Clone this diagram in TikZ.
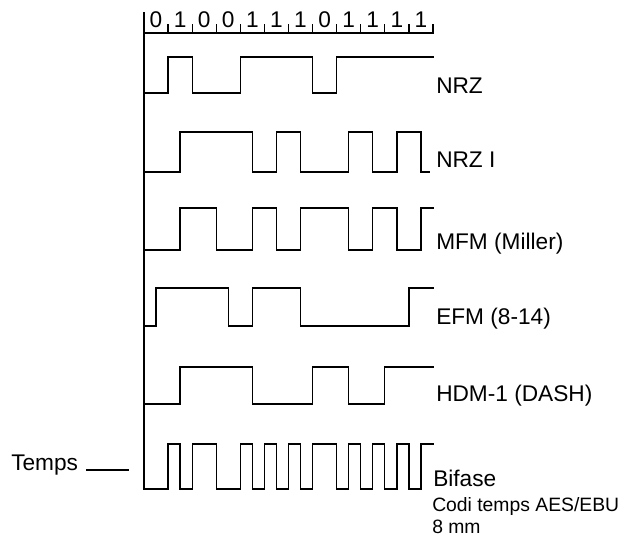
\documentclass[tikz,border=0pt]{standalone}
\usepackage{fontspec}
\setmainfont{Liberation Sans}
\begin{document}
\begin{tikzpicture}[
  x=0.75pt, y=-0.75pt,
  wave/.style={line width=0.95pt, line join=miter, line cap=rect},
  lbl/.style={font=\fontsize{17}{20}\selectfont, inner sep=0pt, anchor=base west},
  note/.style={font=\fontsize{14.5}{17}\selectfont, inner sep=0pt, anchor=base west},
  bit/.style={font=\fontsize{17}{20}\selectfont, inner sep=0pt, anchor=base}
]
  \useasboundingbox (0,0) rectangle (644,538);
  \begin{scope}[shift={(144,0)}, x=18.0625pt]
    % eix i regle de bits
    \draw[wave] (0,13) -- (0,489);
    \draw[wave] (0,33) -- (12,33);
    \foreach \k in {1,...,12}
      \draw[wave] (\k,25) -- (\k,33);
    \foreach \b [count=\k from 0] in {0,1,0,0,1,1,1,0,1,1,1,1}
      \node[bit] (b\k) at (\k+0.5,28) {\b};
    % senyals
    \draw[wave] (0,93) \foreach \xx/\yy in {1/57,2/93,4/57,7/93,8/57} { -| (\xx,\yy) } -- (12,57);
    \draw[wave] (0,172) \foreach \xx/\yy in {1.5/132,4.5/172,5.5/132,6.5/172,8.5/132,9.5/172,10.5/132,11.5/172} { -| (\xx,\yy) } -- (11.85,172);
    \draw[wave] (0,250) \foreach \xx/\yy in {1.5/208,3/250,4.5/208,5.5/250,6.5/208,8.5/250,9.5/208,10.5/250,11.5/208} { -| (\xx,\yy) } -- (12,208);
    \draw[wave] (0,326) \foreach \xx/\yy in {0.5/288,3.5/326,4.5/288,6.5/326,11/288} { -| (\xx,\yy) } -- (12,288);
    \draw[wave] (0,404) \foreach \xx/\yy in {1.5/367,4.5/404,7/367,8.5/404,10/367} { -| (\xx,\yy) } -- (12,367);
    \draw[wave] (0,489) \foreach \xx/\yy in {1/444,1.5/489,2/444,3/489,4/444,4.5/489,5/444,5.5/489,6/444,6.5/489,7/444,8/489,8.5/444,9/489,9.5/444,10/489,10.5/444,11/489,11.5/444} { -| (\xx,\yy) } -- (12,444);
  \end{scope}
  % etiquetes
  \node[lbl] (nrz) at (436,94) {NRZ};
  \node[lbl] (nrzi) at (436,168) {NRZ I};
  \node[lbl] (mfm) at (436,250) {MFM (Miller)};
  \node[lbl] (efm) at (436,325) {EFM (8-14)};
  \node[lbl] (hdm) at (436,402) {HDM-1 (DASH)};
  \node[lbl] (bifase) at (433,487) {Bifase};
  \node[note] (codi) at (432,512) {Codi temps AES/EBU};
  \node[note] (mida) at (432,534) {8 mm};
  \node[lbl] (temps) at (11,471) {Temps};
  \coordinate (tempsend) at (128,470);
  \draw[wave] ([xshift=6pt, yshift=0.75pt]temps.base east) -- (tempsend);
\end{tikzpicture}
\end{document}
